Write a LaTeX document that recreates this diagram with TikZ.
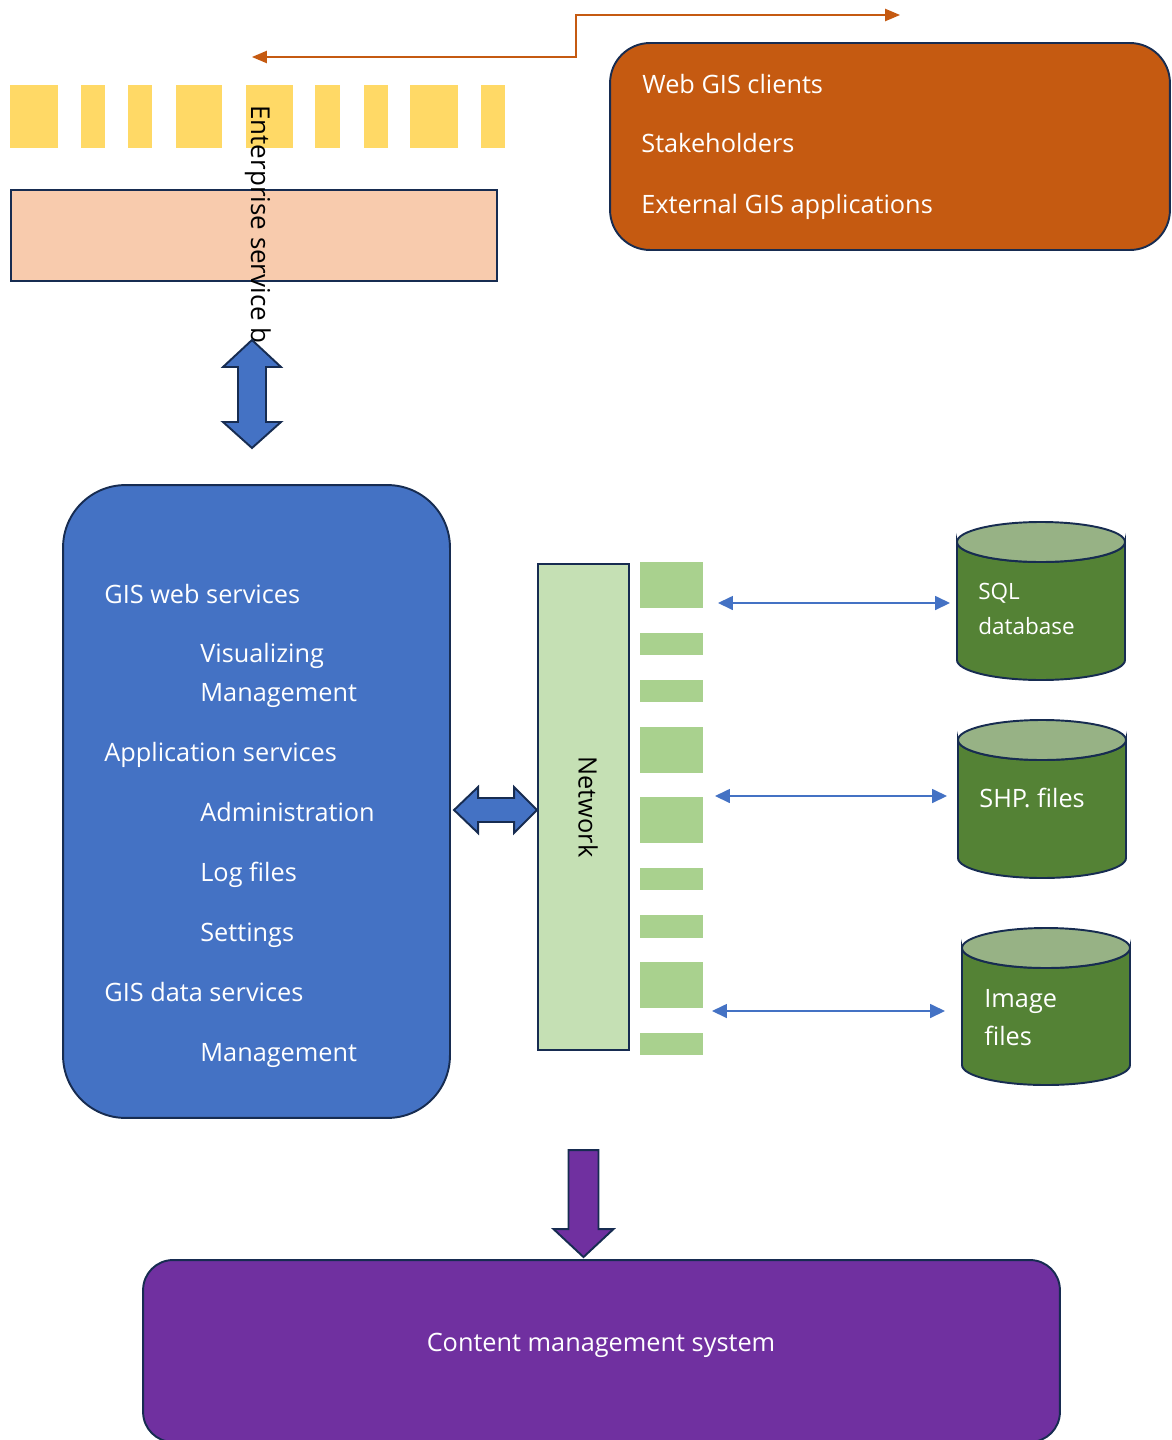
\documentclass[tikz,border=0pt]{standalone}
\usepackage{fontspec}
\setmainfont{Open Sans}
\usetikzlibrary{positioning,arrows.meta,calc}

\definecolor{navy}{HTML}{172C51}
\definecolor{gisorange}{HTML}{C55A11}
\definecolor{gisyellow}{HTML}{FFD966}
\definecolor{gispeach}{HTML}{F8CBAD}
\definecolor{gisblue}{HTML}{4472C4}
\definecolor{netgreen}{HTML}{C5E0B4}
\definecolor{tickgreen}{HTML}{A9D18E}
\definecolor{dbgreen}{HTML}{548235}
\definecolor{dbtop}{HTML}{97B285}
\definecolor{gispurple}{HTML}{7030A0}

\tikzset{
  panel/.style={rectangle, draw=navy, line width=1.1pt, inner sep=0pt},
  whitetext/.style={text=white, anchor=base west, inner sep=0pt, font=\fontsize{14.4}{17}\selectfont},
  blacktext/.style={text=black, inner sep=0pt, font=\fontsize{14.4}{17}\selectfont},
  blockarrow/.style={draw=navy, line width=1.1pt, line join=miter},
  linkarrow/.style={draw=gisblue, line width=0.75pt, {Triangle[length=8.5pt,width=8pt]}-{Triangle[length=8.5pt,width=8pt]}},
  orangelink/.style={draw=gisorange, line width=0.85pt, {Triangle[length=8.5pt,width=7pt]}-{Triangle[length=8.5pt,width=7pt]}},
  drum/.style={draw=navy, line width=1.1pt}
}

% database drum: left x, top centre y, bottom centre y
\newcommand{\dbdrum}[3]{%
  \filldraw[drum, fill=dbgreen] (#1,#2) -- (#1,#3) arc[start angle=180, end angle=0, x radius=84, y radius=20]
    -- ({#1+168},#2) arc[start angle=0, end angle=180, x radius=84, y radius=20] -- cycle;
  \filldraw[drum, fill=dbtop] ({#1+84},#2) ellipse [x radius=84, y radius=20];
}

\begin{document}
\begin{tikzpicture}[x=0.02cm, y=-0.02cm]
  \useasboundingbox (0,0) rectangle (1171,1440);
  \clip (0,0) rectangle (1171,1440);

  % enterprise service bus
  \foreach \a/\b in {10/58, 81/105, 128/152, 176/222, 246/293, 315/340, 364/388, 410/458, 481/505}
    \fill[gisyellow] (\a,85) rectangle (\b,148);
  \node[panel, fill=gispeach, minimum width=9.72cm, minimum height=1.82cm] (esb) at (254,235.5) {};

  \coordinate (busend) at (252,57);
  \coordinate (bend) at (576,57);
  \coordinate (clientend) at (900,15);
  \draw[orangelink] (busend) -- (bend) |- (clientend);

  \node[blacktext, rotate=-90, anchor=base west, font=\fontsize{14.8}{17}\selectfont] (esbtext) at (251,105) {Enterprise service b};

  \draw[blockarrow, fill=gisblue] (252,340) -- (281,367) -- (266,367) -- (266,422) -- (281,422) -- (252,448)
    -- (223,422) -- (238,422) -- (238,367) -- (223,367) -- cycle;

  % clients
  \node[panel, fill=gisorange, rounded corners=0.8cm, minimum width=11.2cm, minimum height=4.14cm] (clients) at (890,146.5) {};
  \node[whitetext] (webgis) at (642,93) {Web GIS clients};
  \node[whitetext] (stake) at (641,152) {Stakeholders};
  \node[whitetext] (extgis) at (641,213) {External GIS applications};

  % GIS server
  \node[panel, fill=gisblue, rounded corners=1.25cm, minimum width=7.74cm, minimum height=12.66cm] (server) at (256.5,801.5) {};
  \node[whitetext] (websrv) at (104,603) {GIS web services};
  \node[whitetext] (visual) at (200,662) {Visualizing};
  \node[whitetext] (webman) at (200,701) {Management};
  \node[whitetext] (appsrv) at (104,761) {Application services};
  \node[whitetext] (admin) at (200,821) {Administration};
  \node[whitetext] (logs) at (200,881) {Log files};
  \node[whitetext] (settings) at (200,941) {Settings};
  \node[whitetext] (datasrv) at (104,1001) {GIS data services};
  \node[whitetext] (dataman) at (200,1061) {Management};

  % network
  \node[panel, fill=netgreen, minimum width=1.82cm, minimum height=9.72cm] (net) at (583.5,807) {};
  \node[blacktext, rotate=-90] (nettext) at (588,807) {Network};
  \foreach \a/\b in {562/608, 633/655, 680/702, 727/773, 797/843, 868/890, 915/938, 962/1008, 1033/1055}
    \fill[tickgreen] (640,\a) rectangle (703,\b);

  \draw[blockarrow, fill=gisblue, shift={($(net.west)+(0,3)$)}] (0,0) -- (-23,-23) -- (-23,-12) -- (-59,-12) -- (-59,-23)
    -- (-83,0) -- (-59,23) -- (-59,12) -- (-23,12) -- (-23,23) -- cycle;

  % data stores
  \dbdrum{957}{542}{660}
  \dbdrum{958}{740}{858}
  \dbdrum{962}{948}{1065}
  \node[whitetext, font=\fontsize{12.8}{19.8}\selectfont, align=left] (sql) at (978,634) {SQL\\database};
  \node[whitetext] (shp) at (979,807) {SHP. files};
  \node[whitetext, align=left, font=\fontsize{14.4}{21.5}\selectfont] (img) at (984,1045) {Image\\files};

  \coordinate (sqlnet) at (718,603);
  \coordinate (sqlin) at (950,603);
  \coordinate (shpnet) at (715,796);
  \coordinate (shpin) at (947,796);
  \coordinate (imgnet) at (712,1011);
  \coordinate (imgin) at (945,1011);
  \draw[linkarrow] (sqlnet) -- (sqlin);
  \draw[linkarrow] (shpnet) -- (shpin);
  \draw[linkarrow] (imgnet) -- (imgin);

  % content management
  \node[panel, fill=gispurple, rounded corners=0.6cm, minimum width=18.34cm, minimum height=3.64cm] (cms) at (601.5,1351) {};
  \node[whitetext, anchor=base] (cmstext) at (601,1351) {Content management system};
  \draw[blockarrow, fill=gispurple, shift={(net.south |- cms.north)}] (0,-2) -- (30,-30) -- (15,-30) -- (15,-109)
    -- (-15,-109) -- (-15,-30) -- (-30,-30) -- cycle;
\end{tikzpicture}
\end{document}
